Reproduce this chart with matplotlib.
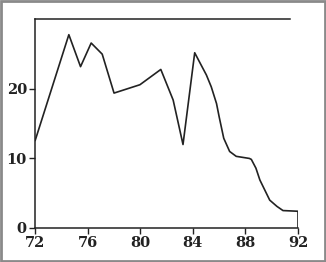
import matplotlib
matplotlib.use("Agg")
import matplotlib.pyplot as plt
from matplotlib.patches import Rectangle

# values
years = [72.0, 74.56, 75.45, 76.26, 77.1, 78.0, 79.97, 81.56, 82.5, 83.25,
         84.14, 84.5, 85.03, 85.4, 85.8, 86.0, 86.35, 86.8, 87.3, 88.3,
         88.45, 88.8, 89.1, 89.85, 90.4, 90.86, 92.0]
values = [12.6, 27.8, 23.2, 26.6, 25.0, 19.4, 20.6, 22.8, 18.4, 12.0,
          25.2, 23.9, 22.0, 20.3, 17.9, 16.0, 12.9, 11.0, 10.3, 10.0,
          9.86, 8.6, 6.9, 4.0, 3.1, 2.5, 2.4]
xticks = [72, 76, 80, 84, 88, 92]
yticks = [0, 10, 20]

fig = plt.figure(figsize=(3.26, 2.62), dpi=100)
fig.patches.append(Rectangle((0.003, 0.004), 0.994, 0.992, transform=fig.transFigure,
                             fill=False, edgecolor="#8a8a8a", linewidth=2.0))

ax = fig.add_axes([0.108, 0.130, 0.806, 0.796])
ax.plot(years, values, color="#222222", linewidth=1.2)
ax.vlines(years[-1], 0, values[-1], color="#222222", linewidth=1.2)

ax.set_xlim(72, 92)
ax.set_ylim(0, 30)
ax.set_xticks(xticks)
ax.set_yticks(yticks)

ax.spines["right"].set_visible(False)
ax.spines["top"].set_bounds(72, 91.4)
for s in ["left", "bottom", "top"]:
    ax.spines[s].set_linewidth(1.1)
    ax.spines[s].set_color("#222222")

ax.tick_params(axis="both", direction="out", length=4, width=1.0, color="#222222",
               labelsize=10.5, pad=2)
for lab in ax.get_xticklabels() + ax.get_yticklabels():
    lab.set_fontfamily("DejaVu Serif")
    lab.set_fontweight("bold")
    lab.set_color("#222222")

fig.savefig("out.png", dpi=100)
